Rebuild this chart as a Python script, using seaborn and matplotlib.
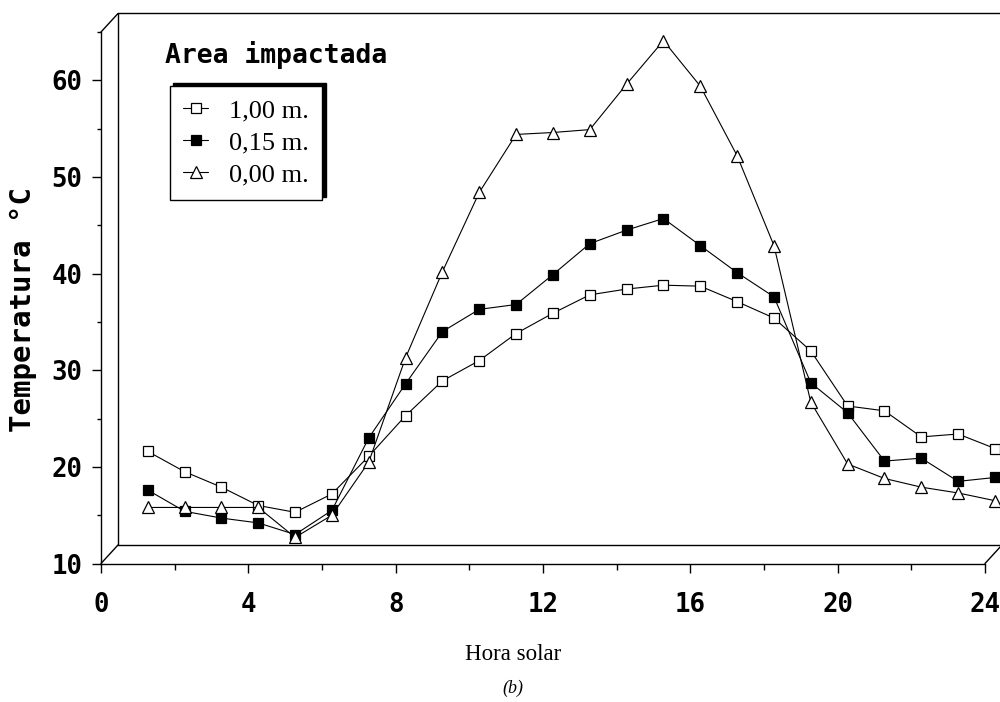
import numpy as np
import seaborn as sns
import matplotlib.pyplot as plt
import matplotlib.transforms as mtransforms
from matplotlib.lines import Line2D

# hora solar (posición de los puntos)
hora = [1.27, 2.27, 3.27, 4.27, 5.27, 6.27, 7.27, 8.27, 9.27, 10.27, 11.27, 12.27,
        13.27, 14.27, 15.27, 16.27, 17.27, 18.27, 19.27, 20.27, 21.27, 22.27, 23.27, 24.27]

# temperatura (°C) para cada área impactada
t_100 = [21.6, 19.5, 17.9, 16.0, 15.3, 17.2, 21.1, 25.3, 28.9, 31.0, 33.8, 35.9,
         37.8, 38.4, 38.8, 38.7, 37.1, 35.4, 32.0, 26.3, 25.8, 23.1, 23.4, 21.9]
t_015 = [17.6, 15.4, 14.7, 14.2, 13.0, 15.5, 23.0, 28.6, 34.0, 36.3, 36.8, 39.9,
         43.1, 44.5, 45.7, 42.9, 40.1, 37.6, 28.7, 25.6, 20.6, 20.9, 18.5, 18.9]
t_000 = [15.8, 15.8, 15.8, 15.8, 12.7, 15.0, 20.5, 31.3, 40.2, 48.4, 54.4, 54.6,
         54.9, 59.6, 64.1, 59.4, 52.2, 42.9, 26.7, 20.3, 18.8, 17.9, 17.3, 16.5]

series = [
    ("1,00 m.", t_100, "s", "white"),
    ("0,15 m.", t_015, "s", "black"),
    ("0,00 m.", t_000, "^", "white"),
]

sns.set_theme(style="ticks")
plt.rcParams["font.family"] = ["DejaVu Sans Mono", "DejaVu Sans"]
plt.rcParams["text.color"] = "black"
plt.rcParams["axes.labelcolor"] = "black"
plt.rcParams["xtick.color"] = "black"
plt.rcParams["ytick.color"] = "black"

fig = plt.figure(figsize=(10, 7.02), dpi=100)
ax = fig.add_axes([0.101, (702 - 563.5) / 702, 0.884, (563.5 - 32) / 702])

for label, vals, mk, fc in series:
    sns.lineplot(x=hora, y=vals, ax=ax, color="black", linewidth=0.8,
                 marker=mk, markersize=7.5 if mk == "s" else 8,
                 markerfacecolor=fc, markeredgecolor="black", markeredgewidth=0.9,
                 label=label, clip_on=False)

ax.set_xlim(0, 24)
ax.set_ylim(10, 65)
ax.set_xticks(range(0, 25, 4))
ax.set_xticks(range(2, 25, 4), minor=True)
ax.set_yticks(range(10, 61, 10))
ax.set_yticks(range(15, 66, 10), minor=True)
ax.set_xlabel("")
ax.set_ylabel("")

for s in ["top", "right"]:
    ax.spines[s].set_visible(False)
for s in ["left", "bottom"]:
    ax.spines[s].set_linewidth(1.0)
    ax.spines[s].set_color("black")

ax.tick_params(which="both", direction="out", color="black", width=1.0)
ax.tick_params(axis="y", which="major", length=6.5, pad=7)
ax.tick_params(axis="y", which="minor", length=3)
ax.tick_params(axis="x", which="major", length=6.5, pad=14)
ax.tick_params(axis="x", which="minor", length=4.5)
for t in ax.get_xticklabels() + ax.get_yticklabels():
    t.set_fontsize(18.5)
    t.set_fontweight("bold")
    t.set_color("black")

# pared trasera (efecto 3D)
off = mtransforms.ScaledTranslation(0.17, 0.185, fig.dpi_scale_trans)
back = ax.transAxes + off
wall = [((0, 0), (0, 1)), ((0, 0), (1, 0)), ((0, 1), (1, 1))]
for (x0, y0), (x1, y1) in wall:
    ax.add_line(Line2D([x0, x1], [y0, y1], transform=back, color="black",
                       lw=1.0, clip_on=False))
for px, py in [(0, 0), (0, 1), (1, 0)]:
    p0 = ax.transAxes.transform((px, py))
    p1 = back.transform((px, py))
    ax.add_line(Line2D([p0[0], p1[0]], [p0[1], p1[1]], transform=None,
                       color="black", lw=1.0, clip_on=False))

leg = ax.legend(loc="upper left", bbox_to_anchor=(0.170, 1 - 86 / 702),
                bbox_transform=fig.transFigure, borderaxespad=0,
                prop={"family": "Liberation Serif", "size": 19},
                frameon=True, fancybox=False, edgecolor="black",
                handlelength=0.95, handletextpad=0.8, labelspacing=0.32,
                borderpad=0.5,
                shadow={"ox": 2.2, "oy": 2.2, "facecolor": "black",
                        "edgecolor": "black", "alpha": 1})
leg.get_frame().set_linewidth(1.0)
leg.get_frame().set_alpha(1)
for txt in leg.get_texts():
    txt.set_color("black")

fig.text(0.165, 1 - 55 / 702, "Area impactada", fontsize=19, fontweight="bold",
         ha="left", va="center")
fig.text(0.023, 1 - 310 / 702, "Temperatura °C", fontsize=21, fontweight="bold",
         rotation=90, ha="center", va="center")
fig.text(0.513, 1 - 655 / 702, "Hora solar", family="Liberation Serif",
         fontsize=16.5, ha="center", va="center")
fig.text(0.513, 1 - 688 / 702, "(b)", family="Liberation Serif", style="italic",
         fontsize=13, ha="center", va="center")

fig.savefig("out.png", dpi=100)
